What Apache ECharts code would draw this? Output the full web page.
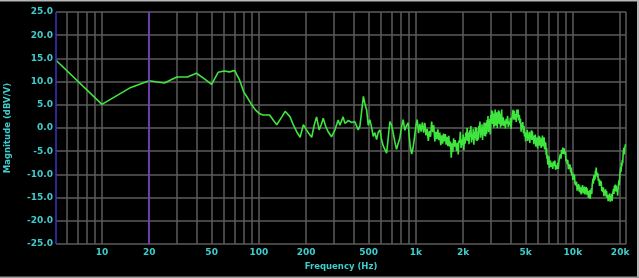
<!DOCTYPE html>
<html><head><meta charset="utf-8">
<script src="https://cdn.jsdelivr.net/npm/echarts@6/dist/echarts.min.js"></script>
<style>html,body{margin:0;padding:0;background:#000;overflow:hidden}#c{width:639px;height:278px}</style>
</head><body><div id="c"></div>
<script>
// Axis ticks
const xGridValues = [6,7,8,9,10,20,30,40,50,60,70,80,90,100,200,300,400,500,600,700,800,900,1000,2000,3000,4000,5000,6000,7000,8000,9000,10000,20000,21800];
const xLabelValues = [10,20,50,100,200,500,1000,2000,5000,10000,20000];
const xMarkerValues = [5.1, 20];
const yTicks = [-25,-20,-15,-10,-5,0,5,10,15,20,25];

// Measured magnitude [frequency Hz, dBV/V]
const lowBand = [[5.1,14.6],[10,5.1],[15,8.6],[20,10.2],[25,9.7],[30,11.0],[35,11.0],[40,11.8],[45,10.6],[50,9.4],[55,12.0],[60,12.3],[65,12.1],[70,12.4],[75,10.5],[80,7.8],[85,6.4],[90,5.0],[95,3.9],[100,3.2]];
const midBand = [[106,2.8],[117,2.8],[124,1.6],[130,0.7],[140,2.4],[147,3.6],[158,2.4],[166,0.6],[174,-0.8],[183,-2.0],[192,0.7],[201,-0.4],[208,-1.2],[217,-2.0],[225,0.6],[233,2.4],[242,-0.4],[250,0.8],[257,2.1],[266,0.4],[276,-0.8],[290,-1.9],[305,-0.4],[320,1.7],[328,0.6],[336,0.3],[344,2.4],[353,1.0],[362,0.7],[371,1.6],[380,1.7],[390,1.2],[398,1.4],[408,1.4],[419,1.5],[429,-0.4],[440,0.4],[451,3.5],[463,6.8],[475,5.0],[486,3.9],[497,0.6]];
const upperMidBand = [[509,1.8],[522,0.2],[535,-1.8],[548,-1.0],[562,-2.5],[576,-0.9],[590,-0.4],[605,-2.6],[620,-3.9],[635,-4.6],[651,-5.4],[667,-2.0],[683,1.4],[700,0.6],[717,-1.1],[735,-3.0],[753,-4.6],[772,-3.3],[791,-2.1],[810,0.2],[830,1.8],[850,-0.5],[871,0.5],[893,1.1],[905,-1.5]];
const kiloBand = [[920,-3.9],[940,-5.6],[960,-4.2],[980,-2.0],[1000,0.4],[1020,1.8],[1040,-1.1],[1060,0.9],[1080,-0.8],[1100,1.2],[1120,-1.0],[1140,1.1],[1160,-1.6],[1180,-0.2],[1200,-2.8],[1220,-0.6],[1240,-1.9],[1260,1.4],[1280,-0.9],[1300,0.6],[1320,-2.9],[1340,-0.8],[1360,-2.4],[1380,-0.3],[1400,-2.6],[1420,-1.0],[1440,-3.7],[1460,-1.6],[1480,-3.4],[1500,-1.2],[1520,-2.9],[1540,-1.3],[1560,-3.6],[1580,-1.9],[1600,-3.9],[1620,-1.7],[1640,-4.0],[1660,-2.9],[1680,-6.4],[1700,-3.3],[1720,-5.1],[1740,-2.2],[1760,-4.0],[1780,-2.6]];
const twoKBand = [[1800,-2.2],[1820,-5.0],[1840,-3.2],[1860,-5.7],[1880,-2.7],[1900,-3.2],[1920,-0.8],[1940,-4.3],[1960,-2.5],[1980,-3.7],[2000,-1.4],[2020,-4.8],[2040,-2.0],[2060,-3.4],[2080,-1.0],[2100,-2.7],[2120,0.0],[2140,-2.8],[2160,-1.0],[2180,-3.5],[2200,-0.5],[2220,-2.0],[2240,0.4],[2260,-3.1],[2280,-1.3],[2300,-2.5],[2320,-0.2],[2340,-3.6],[2360,-0.8],[2380,-2.2],[2400,0.2],[2420,-2.7],[2440,0.0],[2460,-2.8],[2480,-1.0],[2500,-2.5],[2520,0.5],[2540,-1.0],[2560,1.4],[2580,-2.1],[2600,-0.3],[2620,-1.5],[2640,0.8],[2660,-2.6],[2680,0.2],[2700,-1.2],[2720,1.2],[2740,-1.7],[2760,1.0],[2780,-1.8],[2800,1.2],[2820,-1.3],[2840,1.7],[2860,0.2],[2880,2.6],[2900,-0.9],[2920,0.9],[2940,-0.3],[2960,2.0],[2980,-1.4],[3000,2.8],[3020,1.4],[3040,3.8],[3060,0.9],[3080,3.6],[3100,0.8],[3120,2.6],[3140,0.1],[3160,3.1],[3180,1.6],[3200,4.0],[3220,0.5],[3240,2.3],[3260,1.1],[3280,3.4],[3300,0.0],[3320,2.8],[3340,1.4],[3360,3.8],[3380,0.9],[3400,3.6],[3420,0.8],[3440,2.6],[3460,0.1],[3480,3.1],[3500,1.6],[3520,4.0],[3540,0.5],[3560,2.3],[3580,1.1]];
const fourKBand = [[3600,2.3],[3640,0.4],[3680,1.6],[3720,-0.1],[3760,2.0],[3800,0.9],[3840,2.6],[3880,0.2],[3920,1.4],[3960,0.6],[4000,2.2],[4040,-0.2],[4080,1.8],[4120,2.2],[4160,3.9],[4200,1.8],[4240,3.7],[4280,1.8],[4320,3.0],[4360,1.3],[4400,4.0],[4440,2.3],[4480,4.0],[4520,1.6],[4560,2.8],[4600,1.0],[4640,2.0],[4680,-0.8],[4720,1.0],[4760,-0.2],[4800,1.3],[4840,-1.1],[4880,0.5],[4920,-1.8],[4960,-0.9],[5000,-2.9],[5040,-1.0],[5080,-2.1],[5120,-0.4],[5160,-2.8],[5200,-1.6],[5240,-2.4],[5280,-0.8],[5320,-3.2],[5360,-1.2],[5400,-2.2],[5440,-0.5],[5480,-2.6],[5520,-0.7],[5560,-2.6],[5600,-1.6],[5640,-3.5],[5680,-1.6],[5720,-2.9],[5760,-1.4],[5800,-4.0],[5840,-2.8],[5880,-3.6],[5920,-2.0],[5960,-4.4],[6000,-2.4],[6040,-3.4],[6080,-1.7],[6120,-3.8],[6160,-1.9],[6200,-3.8],[6240,-2.6],[6280,-4.3],[6320,-2.2],[6360,-3.3],[6400,-1.6],[6440,-4.0],[6480,-2.8],[6520,-3.6],[6560,-2.0],[6600,-4.6],[6640,-3.0],[6680,-4.4],[6720,-3.2],[6760,-5.8],[6800,-4.3],[6840,-6.6],[6880,-5.8],[6920,-7.9],[6960,-6.2],[7000,-7.6],[7040,-6.1],[7080,-8.6],[7120,-7.5],[7160,-8.4]];
const eightKBand = [[7200,-7.0],[7280,-8.4],[7360,-7.5],[7440,-8.8],[7520,-7.2],[7600,-8.2],[7680,-7.0],[7760,-9.0],[7840,-8.0],[7920,-8.8],[8000,-7.5],[8080,-8.8],[8160,-7.0],[8240,-7.3],[8320,-5.6],[8400,-6.6],[8480,-4.7],[8560,-5.6],[8640,-4.2],[8720,-5.6],[8800,-4.4],[8880,-5.7],[8960,-5.0],[9040,-7.2],[9120,-6.7],[9200,-7.8],[9280,-6.9],[9360,-8.9],[9440,-7.8],[9520,-8.8],[9600,-7.9],[9680,-9.6],[9760,-8.5],[9840,-10.2],[9920,-9.6],[10000,-11.2],[10080,-9.9],[10160,-11.0],[10240,-10.1],[10320,-12.2],[10400,-11.5],[10480,-12.5],[10560,-11.6],[10640,-13.5],[10720,-12.3],[10800,-13.2],[10880,-12.1],[10960,-13.7],[11040,-12.4],[11120,-13.9],[11200,-13.0],[11280,-14.3],[11360,-12.7],[11440,-13.5],[11520,-12.3],[11600,-14.1],[11680,-13.1],[11760,-13.8],[11840,-12.6],[11920,-14.3],[12000,-13.0],[12080,-13.8],[12160,-12.7],[12240,-14.3],[12320,-13.0],[12400,-14.5],[12480,-13.7],[12560,-15.1],[12640,-13.6],[12720,-14.5],[12800,-13.4],[12880,-15.3],[12960,-14.3],[13040,-14.7],[13120,-13.0],[13200,-14.2],[13280,-12.3],[13360,-12.5],[13440,-10.9],[13520,-12.0],[13600,-10.2],[13680,-11.3],[13760,-10.1],[13840,-11.1],[13920,-9.2],[14000,-9.8],[14080,-8.5],[14160,-10.4],[14240,-9.6],[14320,-10.6]];
const topBand = [[14400,-9.7],[14525,-11.4],[14650,-10.9],[14775,-12.5],[14900,-11.3],[15025,-12.4],[15150,-11.5],[15275,-13.6],[15400,-12.8],[15525,-13.8],[15650,-12.8],[15775,-14.7],[15900,-13.5],[16025,-14.3],[16150,-13.2],[16275,-14.8],[16400,-13.6],[16525,-15.1],[16650,-14.4],[16775,-15.8],[16900,-14.4],[17025,-15.2],[17150,-14.1],[17275,-15.9],[17400,-14.8],[17525,-15.5],[17650,-14.2],[17775,-15.8],[17900,-14.3],[18025,-14.7],[18150,-13.1],[18275,-14.2],[18400,-12.4],[18525,-13.4],[18650,-12.2],[18775,-13.7],[18900,-12.4],[19025,-13.7],[19150,-13.0],[19275,-14.6],[19400,-13.2],[19525,-13.2],[19650,-11.3],[19775,-12.3],[19900,-10.2],[20025,-10.3],[20150,-8.5],[20275,-9.4],[20400,-7.5],[20525,-8.3],[20650,-6.9],[20775,-7.6],[20900,-5.5],[21025,-5.8],[21150,-4.2],[21275,-5.7],[21400,-4.4],[21525,-4.7],[21650,-3.5],[21800,-3.5]];

const magnitude = lowBand.concat(midBand, upperMidBand, kiloBand, twoKBand, fourKBand, eightKBand, topBand);

const cyan = '#3fcccc';
const font = 'DejaVu Sans';
function fmtHz(v){ return v >= 1000 ? (v/1000) + 'k' : String(v); }

const chart = echarts.init(document.getElementById('c'), null, {renderer:'canvas'});
chart.setOption({
  backgroundColor: '#000',
  animation: false,
  grid: {left: 56, right: 13, top: 12, bottom: 34, containLabel: false, outerBoundsMode: 'none'},
  xAxis: {
    type: 'log', logBase: 10, min: xMarkerValues[0], max: 21800,
    axisLine: {show: false},
    axisTick: {show: false, customValues: xGridValues},
    splitLine: {show: true, lineStyle: {color: '#5c5c5c', width: 1.5}},
    axisLabel: {customValues: xLabelValues, formatter: fmtHz, color: cyan, fontFamily: font, fontWeight: 'bold', fontSize: 9, margin: 4},
    name: 'Frequency (Hz)', nameLocation: 'middle', nameGap: 18,
    nameTextStyle: {color: cyan, fontFamily: font, fontWeight: 'bold', fontSize: 8.5}
  },
  yAxis: {
    type: 'value', min: yTicks[0], max: yTicks[yTicks.length-1], interval: 5,
    axisLine: {show: false}, axisTick: {show: false},
    splitLine: {show: true, lineStyle: {color: '#5c5c5c', width: 1.5}},
    axisLabel: {formatter: v => v.toFixed(1), color: cyan, fontFamily: font, fontWeight: 'bold', fontSize: 9, margin: 3},
    name: 'Magnitude (dBV/V)', nameLocation: 'middle', nameGap: 44,
    nameTextStyle: {color: cyan, fontFamily: font, fontWeight: 'bold', fontSize: 8.5}
  },
  graphic: [
    {type: 'rect', shape: {x: 0, y: 0, width: 639, height: 1.5}, style: {fill: '#b8b8b8'}, silent: true},
    {type: 'rect', shape: {x: 637, y: 0, width: 2, height: 278}, style: {fill: '#b8b8b8'}, silent: true},
    {type: 'rect', shape: {x: 0, y: 276.5, width: 639, height: 1.5}, style: {fill: '#9a9a9a'}, silent: true}
  ],
  series: [{
    type: 'line', data: magnitude, showSymbol: false, symbol: 'none',
    lineStyle: {color: '#3ee63e', width: 1.6}, z: 3,
    markLine: {
      silent: true, symbol: 'none', animation: false, label: {show: false},
      data: [
        {xAxis: xMarkerValues[0], lineStyle: {color: '#3a32c8', width: 1.5, type: 'solid'}},
        {xAxis: xMarkerValues[1], lineStyle: {color: '#7a3ad0', width: 1.5, type: 'solid'}}
      ]
    }
  }]
});
</script></body></html>
